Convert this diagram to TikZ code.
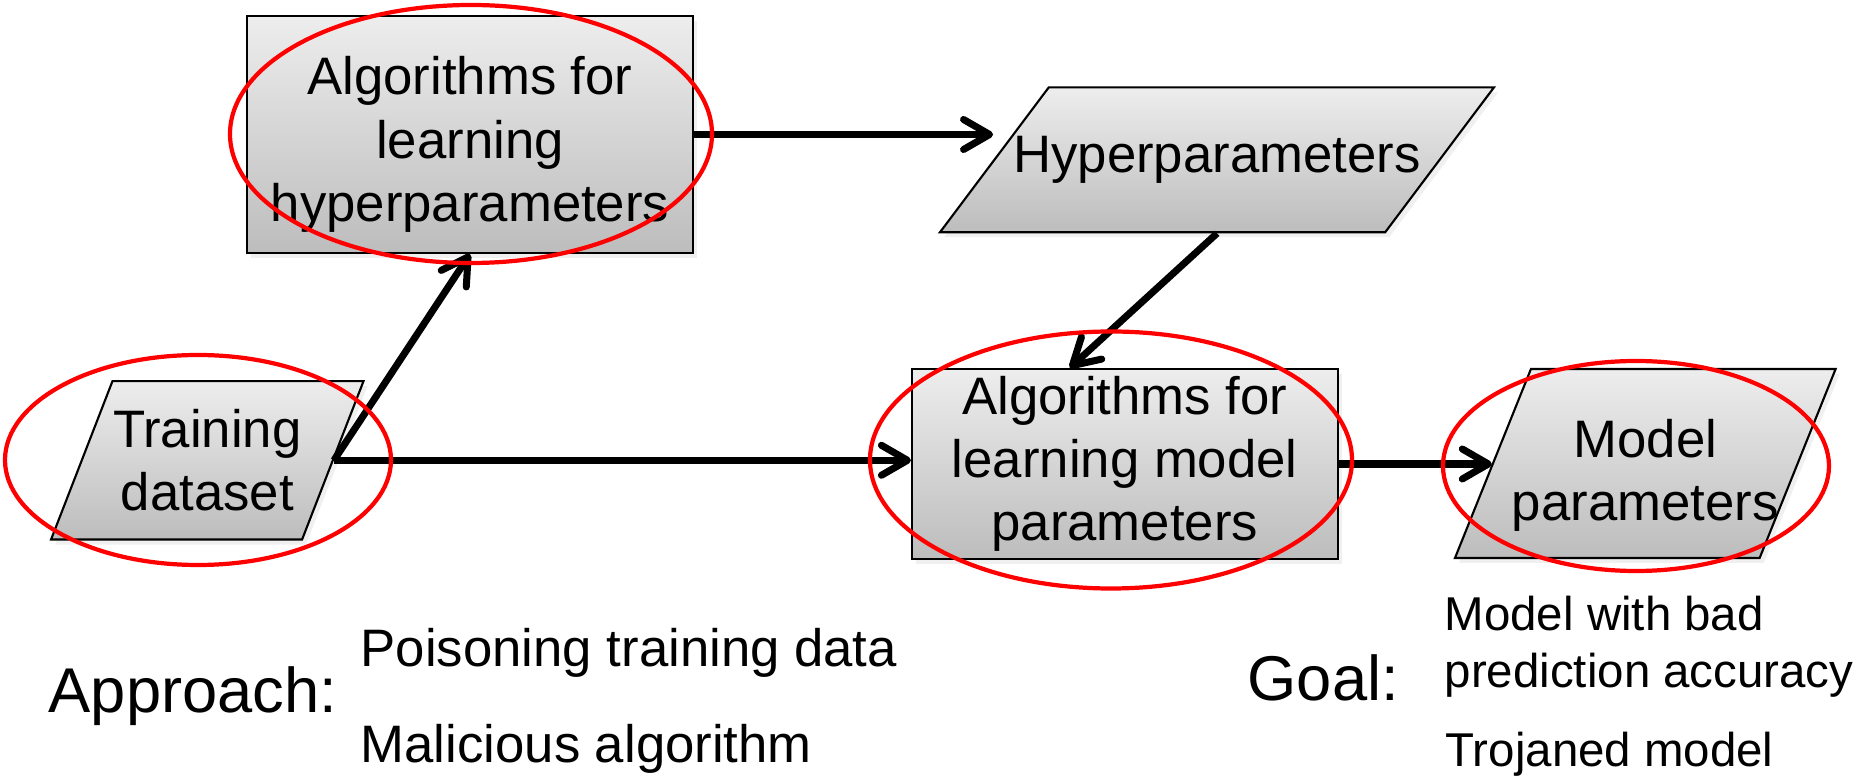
\documentclass[tikz,border=0pt]{standalone}
\usepackage{fontspec}
\setmainfont{Liberation Sans}
\usetikzlibrary{shapes.geometric,arrows.meta,shadows}

\definecolor{BoxTop}{rgb}{0.93,0.93,0.93}
\definecolor{BoxBottom}{rgb}{0.74,0.74,0.74}
\definecolor{RingColor}{rgb}{1.0,0.0,0.0}
\tikzstyle{base}=[draw=black,
                    line width=0.6pt,
                    top color=BoxTop,
                    bottom color=BoxBottom,
                    drop shadow={opacity=0.12, shadow xshift=0.04cm, shadow yshift=-0.05cm},
                    font=\fontsize{15}{18}\selectfont,
                    inner sep=0pt,
                    align=center]
\tikzstyle{process}=[base, rectangle]
\tikzstyle{data}=[base, trapezium, trapezium stretches body]
\tikzstyle{arrow}=[line width=2pt, -{Straight Barb[length=0.26cm, width=0.30cm, round]}]
\tikzstyle{ring}=[draw=RingColor, line width=1.2pt]
\tikzstyle{heading}=[anchor=base west, inner sep=0pt, font=\fontsize{18}{21}\selectfont]
\tikzstyle{item}=[anchor=base west, inner sep=0pt, font=\fontsize{15}{18}\selectfont]
\tikzstyle{smallitem}=[anchor=base west, inner sep=0pt, font=\fontsize{13.5}{16}\selectfont]

\begin{document}
\begin{tikzpicture}
    \useasboundingbox (0,0) rectangle (18.72,-7.77);

      \node at ( 4.700, -1.345) (hyperalgo) [process, minimum width=4.46cm, minimum height=2.37cm]
            {\rule{0pt}{0.58cm}Algorithms for\\learning\\hyperparameters};
      \node at (12.170, -1.598) (hyper)     [data, trapezium left angle=53.1, trapezium right angle=126.9,
                                             minimum width=5.54cm, inner xsep=-0.375cm, inner ysep=0.4885cm]
            {Hyperparameters};
      \node at ( 2.073, -4.603) (train)     [data, trapezium left angle=68.8, trapezium right angle=111.2,
                                             minimum width=3.125cm, inner ysep=0.2825cm]
            {Training\\dataset};
      \node at (11.248, -4.640) (modelalgo) [process, minimum width=4.256cm, minimum height=1.90cm]
            {Algorithms for\\learning model\\parameters};
      \node at (16.453, -4.635) (model)     [data, trapezium left angle=68.1, trapezium right angle=111.9,
                                             minimum width=3.806cm, inner xsep=-0.197cm, inner ysep=0.2635cm]
            {\rule{0pt}{0.62cm}Model\\parameters};

      \draw[arrow] (train.east)     -- (hyperalgo.south);
      \draw[arrow] (train.east)     -- (train.east -| modelalgo.west);
      \draw[arrow] (hyperalgo.east) -- (hyperalgo.east -| hyper.west);
      \draw[arrow] (hyper.south)    -- ([xshift=-0.55cm]modelalgo.north);
      \draw[arrow] (modelalgo.east) -- (modelalgo.east -| model.west);

      % red marks
      \draw[ring] ( 4.71, -1.34) ellipse [x radius=2.41, y radius=1.29];
      \draw[ring] ( 1.98, -4.60) ellipse [x radius=1.93, y radius=1.05];
      \draw[ring] (11.11, -4.60) ellipse [x radius=2.41, y radius=1.285];
      \draw[ring] (16.36, -4.66) ellipse [x radius=1.93, y radius=1.05];

      \node at ( 0.48, -7.130) (approach) [heading]   {Approach:};
      \node at ( 3.60, -6.670) (poison)   [item]      {Poisoning training data};
      \node at ( 3.60, -7.626) (malalgo)  [item]      {Malicious algorithm};
      \node at (12.47, -7.007) (goal)     [heading]   {Goal:};
      \node at (14.44, -6.307) (badmodel) [smallitem] {Model with bad};
      \node at (14.44, -6.880) (badacc)   [smallitem] {prediction accuracy};
      \node at (14.45, -7.667) (trojan)   [smallitem] {Trojaned model};
\end{tikzpicture}
\end{document}
